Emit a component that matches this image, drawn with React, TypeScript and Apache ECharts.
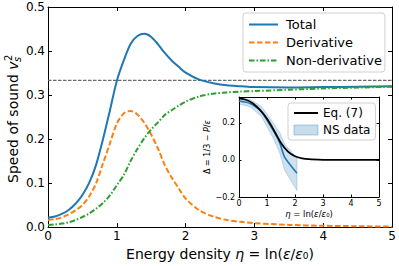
import React, { useEffect, useRef } from 'react';
import * as echarts from 'echarts';

// ---------- main panel data ----------
const eta = [0, 0.1, 0.2, 0.3, 0.4, 0.5, 0.6, 0.7, 0.8, 0.9, 1.0, 1.1, 1.2, 1.3, 1.4, 1.5, 1.6, 1.7, 1.8, 1.9, 2.0, 2.2, 2.4, 2.6, 2.8, 3.0, 3.5, 4.0, 4.5, 5.0];
const total = [0.021, 0.024, 0.03, 0.039, 0.053, 0.073, 0.101, 0.142, 0.2, 0.265, 0.332, 0.378, 0.416, 0.434, 0.439, 0.432, 0.415, 0.395, 0.378, 0.364, 0.351, 0.335, 0.327, 0.322, 0.32, 0.318, 0.317, 0.318, 0.319, 0.32];
const derivative = [0.016, 0.018, 0.022, 0.029, 0.038, 0.05, 0.07, 0.1, 0.145, 0.19, 0.235, 0.258, 0.264, 0.256, 0.237, 0.21, 0.178, 0.14, 0.112, 0.088, 0.065, 0.038, 0.024, 0.016, 0.012, 0.009, 0.005, 0.003, 0.002, 0.001];
const nonDerivative = [0.005, 0.006, 0.008, 0.011, 0.016, 0.023, 0.031, 0.042, 0.055, 0.072, 0.095, 0.118, 0.15, 0.178, 0.202, 0.222, 0.238, 0.255, 0.266, 0.276, 0.285, 0.297, 0.303, 0.306, 0.308, 0.309, 0.312, 0.315, 0.317, 0.319];
const conformalLimit = 1 / 3;
const mainXRange = [0, 5];
const mainYRange = [0, 0.5];

// ---------- inset data ----------
const insetEta = [0, 0.25, 0.5, 0.75, 1.0, 1.25, 1.5, 1.75, 2.0, 2.25, 2.5, 3.0, 3.5, 4.0, 5.0];
const eq7 = [0.333, 0.325, 0.305, 0.27, 0.222, 0.16, 0.092, 0.045, 0.02, 0.009, 0.004, 0.001, 0.0, 0.0, 0.0];
const nsEta = [0, 0.4, 0.8, 1.2, 1.45, 1.63, 2.07];
const nsMean = [0.318, 0.305, 0.262, 0.165, 0.095, 0.015, -0.072];
const nsLower = [0.302, 0.287, 0.235, 0.125, 0.04, -0.055, -0.165];
const nsUpper = [0.334, 0.325, 0.29, 0.205, 0.15, 0.085, 0.01];
const insetYRange = [-0.2, 0.34];

const FONT = 'DejaVu Sans';
const BLUE = '#1f77b4';
const ORANGE = '#ff7f0e';
const GREEN = '#2ca02c';
const BAND_FILL = 'rgba(31,119,180,0.22)';
const BAND_EDGE = 'rgba(31,119,180,0.3)';

function measure(text: string, font: string): number {
  const ctx = document.createElement('canvas').getContext('2d');
  if (!ctx) return text.length * 8;
  ctx.font = font;
  return ctx.measureText(text).width;
}

function axisBase(gridIndex: number, min: number, max: number, interval: number, tickLen: number) {
  return {
    type: 'value' as const,
    gridIndex,
    min,
    max,
    interval,
    splitLine: { show: false },
    axisLine: { show: true, onZero: false, lineStyle: { color: '#000', width: 1 } },
    axisTick: { show: true, inside: true, length: tickLen, lineStyle: { color: '#000', width: 1 } },
  };
}

export default function App() {
  const ref = useRef<HTMLDivElement>(null);

  useEffect(() => {
    if (!ref.current) return;
    const chart = echarts.init(ref.current, undefined, { renderer: 'svg' });

    const mainTxt = 'Speed of sound ';
    const w1 = measure(mainTxt, `14px "${FONT}"`);
    const w2 = measure('v', `italic 14px "${FONT}"`);
    const w3 = measure('2', `10px "${FONT}"`);
    const W = w1 + w2 + w3;
    const x0 = -W / 2;

    const pair = (xs: number[], ys: number[]) => xs.map((x, i) => [x, ys[i]]);

    const mainLabelStyle = { fontSize: 12, color: '#000', fontFamily: FONT };
    const insetLabelStyle = { fontSize: 8, color: '#000', fontFamily: FONT };

    const option: any = {
      animation: false,
      backgroundColor: '#fff',
      grid: [
        { left: 48, top: 7, width: 344, height: 221, show: false },
        { left: 239, top: 97, width: 140, height: 100, show: true, backgroundColor: '#fff', borderWidth: 0, z: 3 },
      ],
      xAxis: [
        {
          ...axisBase(0, mainXRange[0], mainXRange[1], 1, 4),
          position: 'bottom',
          axisLabel: { ...mainLabelStyle, margin: 3, formatter: (v: number) => String(v) },
          name: 'Energy density {i|η} = ln({i|ε}/{i|ε}₀)',
          nameLocation: 'middle',
          nameGap: 18,
          nameTextStyle: {
            fontSize: 14, color: '#000', fontFamily: FONT,
            rich: { i: { fontSize: 14, fontStyle: 'italic', color: '#000', fontFamily: FONT } },
          },
        },
        {
          ...axisBase(0, mainXRange[0], mainXRange[1], 1, 4),
          position: 'top',
          axisLabel: { show: false },
        },
        {
          ...axisBase(1, 0, 5, 1, 2.5),
          position: 'bottom',
          axisLabel: { ...insetLabelStyle, margin: 2, formatter: (v: number) => String(v) },
          name: '{i|η} = ln({i|ε}/{i|ε}₀)',
          nameLocation: 'middle',
          nameGap: 12,
          nameTextStyle: {
            fontSize: 8.5, color: '#000', fontFamily: FONT,
            rich: { i: { fontSize: 8.5, fontStyle: 'italic', color: '#000', fontFamily: FONT } },
          },
          z: 6,
        },
        {
          ...axisBase(1, 0, 5, 1, 2.5),
          position: 'top',
          axisLabel: { show: false },
          z: 6,
        },
      ],
      yAxis: [
        {
          ...axisBase(0, mainYRange[0], mainYRange[1], 0.1, 4),
          position: 'left',
          axisLabel: { ...mainLabelStyle, margin: 3, formatter: (v: number) => v.toFixed(1) },
        },
        {
          ...axisBase(0, mainYRange[0], mainYRange[1], 0.1, 4),
          position: 'right',
          axisLabel: { show: false },
        },
        {
          ...axisBase(1, insetYRange[0], insetYRange[1], 0.2, 2.5),
          position: 'left',
          axisLabel: {
            ...insetLabelStyle, margin: 4, showMaxLabel: false,
            formatter: (v: number) => (v < -1e-9 ? '−' : '') + Math.abs(v).toFixed(1),
          },
          name: 'Δ = 1/3 − {i|P}/{i|ε}',
          nameLocation: 'middle',
          nameRotate: 90,
          nameGap: 27,
          nameTextStyle: {
            fontSize: 8, color: '#000', fontFamily: FONT,
            rich: { i: { fontSize: 8, fontStyle: 'italic', color: '#000', fontFamily: FONT } },
          },
          z: 6,
        },
        {
          ...axisBase(1, insetYRange[0], insetYRange[1], 0.2, 2.5),
          position: 'right',
          axisLabel: { show: false },
          z: 6,
        },
      ],
      legend: [
        {
          data: ['Total', 'Derivative', 'Non-derivative'],
          orient: 'vertical',
          left: 243,
          top: 13,
          itemWidth: 29,
          itemHeight: 14,
          itemGap: 5,
          padding: [5, 3, 5, 5],
          backgroundColor: 'rgba(255,255,255,0.85)',
          borderColor: '#d0d0d0',
          borderWidth: 1,
          borderRadius: 3,
          itemStyle: { opacity: 0 },
          textStyle: { fontSize: 13, color: '#000', fontFamily: FONT, padding: [0, 0, 0, 3] },
        },
        {
          data: [
            'Eq. (7)',
            { name: 'NS data', icon: 'rect', itemStyle: { color: 'rgba(31,119,180,0.25)', borderColor: 'rgba(31,119,180,0.35)', borderWidth: 1, opacity: 1 } },
          ],
          orient: 'vertical',
          left: 288,
          top: 103,
          itemWidth: 24,
          itemHeight: 10,
          itemGap: 5,
          padding: [4, 5, 4, 5],
          backgroundColor: 'rgba(255,255,255,0.85)',
          borderColor: '#d0d0d0',
          borderWidth: 1,
          borderRadius: 3,
          z: 10,
          itemStyle: { opacity: 0 },
          textStyle: { fontSize: 12, color: '#000', fontFamily: FONT },
        },
      ],
      graphic: [
        {
          type: 'group',
          x: 13,
          y: 119,
          rotation: Math.PI / 2,
          children: [
            { type: 'text', x: x0, y: 0, style: { text: mainTxt, fontSize: 14, fontFamily: FONT, fill: '#000', textAlign: 'left', textVerticalAlign: 'middle' } },
            { type: 'text', x: x0 + w1, y: 0, style: { text: 'v', fontSize: 14, fontStyle: 'italic', fontFamily: FONT, fill: '#000', textAlign: 'left', textVerticalAlign: 'middle' } },
            { type: 'text', x: x0 + w1 + w2 + 0.5, y: -5, style: { text: '2', fontSize: 10, fontFamily: FONT, fill: '#000', textAlign: 'left', textVerticalAlign: 'middle' } },
            { type: 'text', x: x0 + w1 + w2 - 0.5, y: 4, style: { text: 's', fontSize: 10, fontStyle: 'italic', fontFamily: FONT, fill: '#000', textAlign: 'left', textVerticalAlign: 'middle' } },
          ],
        },
      ],
      series: [
        {
          name: 'conformal',
          type: 'line',
          xAxisIndex: 0,
          yAxisIndex: 0,
          data: [[mainXRange[0], conformalLimit], [mainXRange[1], conformalLimit]],
          symbol: 'none',
          lineStyle: { color: '#6b6b6b', width: 1.3, type: [3.5, 1.5] },
          z: 1,
        },
        {
          name: 'Total',
          type: 'line',
          xAxisIndex: 0,
          yAxisIndex: 0,
          data: pair(eta, total),
          smooth: 0.3,
          symbol: 'none',
          color: BLUE,
          lineStyle: { color: BLUE, width: 2 },
          z: 2,
        },
        {
          name: 'Derivative',
          type: 'line',
          xAxisIndex: 0,
          yAxisIndex: 0,
          data: pair(eta, derivative),
          smooth: 0.3,
          symbol: 'none',
          color: ORANGE,
          lineStyle: { color: ORANGE, width: 2, type: [5.5, 2.5] },
          z: 2,
        },
        {
          name: 'Non-derivative',
          type: 'line',
          xAxisIndex: 0,
          yAxisIndex: 0,
          data: pair(eta, nonDerivative),
          smooth: 0.3,
          symbol: 'none',
          color: GREEN,
          lineStyle: { color: GREEN, width: 2, type: [5.5, 2, 1.5, 2] },
          z: 2,
        },
        {
          name: 'NS data',
          type: 'custom',
          coordinateSystem: 'cartesian2d',
          xAxisIndex: 2,
          yAxisIndex: 2,
          data: nsEta.map((x, i) => [x, nsLower[i], nsUpper[i]]),
          encode: { x: 0, y: [1, 2] },
          color: BAND_FILL,
          z: 5,
          renderItem: (params: any, api: any) => {
            if (params.dataIndex !== 0) return null;
            const up = nsEta.map((x, i) => api.coord([x, nsUpper[i]]));
            const lo = nsEta.map((x, i) => api.coord([x, nsLower[i]])).reverse();
            return {
              type: 'polygon',
              shape: { points: up.concat(lo) },
              style: { fill: BAND_FILL, stroke: BAND_EDGE, lineWidth: 0.8 },
            };
          },
        },
        {
          name: 'NS mean',
          type: 'line',
          xAxisIndex: 2,
          yAxisIndex: 2,
          data: pair(nsEta, nsMean),
          smooth: 0.2,
          symbol: 'none',
          lineStyle: { color: BLUE, width: 1.6 },
          z: 6,
        },
        {
          name: 'Eq. (7)',
          type: 'line',
          xAxisIndex: 2,
          yAxisIndex: 2,
          data: pair(insetEta, eq7),
          smooth: 0.3,
          symbol: 'none',
          color: '#000',
          lineStyle: { color: '#000', width: 1.8 },
          z: 7,
        },
      ],
    };

    chart.setOption(option);
    return () => chart.dispose();
  }, []);

  return <div ref={ref} style={{ position: 'fixed', left: 0, top: 0, width: 399, height: 266 }} />;
}
